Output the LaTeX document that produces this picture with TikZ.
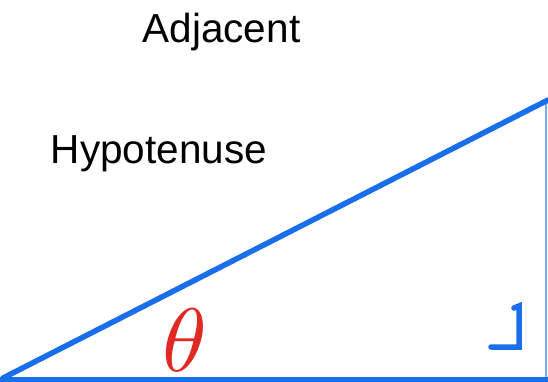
\documentclass[tikz,border=0pt]{standalone}
\usepackage{fontspec}
\setmainfont{Liberation Sans}
\usepackage{tikz}
\definecolor{triBlue}{RGB}{25,110,235}
\definecolor{edgeBlue}{RGB}{120,170,240}
\definecolor{angRed}{RGB}{225,40,35}

\begin{document}
\begin{tikzpicture}[x=1pt,y=-1pt]
  \tikzset{side/.style={draw=triBlue,line width=5pt,line cap=round},
    word/.style={font=\fontsize{40.5}{44}\selectfont,anchor=base,inner sep=0pt}}
  \useasboundingbox (0,0) rectangle (548,382);
  \coordinate (A) at (3,378);
  \coordinate (B) at (546,378);
  \coordinate (C) at (548,100);
  \coordinate (Cb) at (546,100);
  \coordinate (L) at (-2,379);
  \coordinate (R) at (550,379);
  \node[word] (adj) at (221.5,43) {Adjacent};
  \node[word] (hyp) at (159,164) {Hypotenuse};
  \node[anchor=base,inner sep=0pt,text=angRed,scale=9] (th) at (185,371) {$\theta$};
  \draw[edgeBlue,line width=1.5pt] (Cb) -- (B);
  \draw[side,line cap=butt] (L) -- (R);
  \draw[side,line width=5.5pt] (A) -- (C);
  \draw[side,line width=5.5pt] (491,347) -- (519,347) -- (519,306) -- (514,308);
\end{tikzpicture}
\end{document}
